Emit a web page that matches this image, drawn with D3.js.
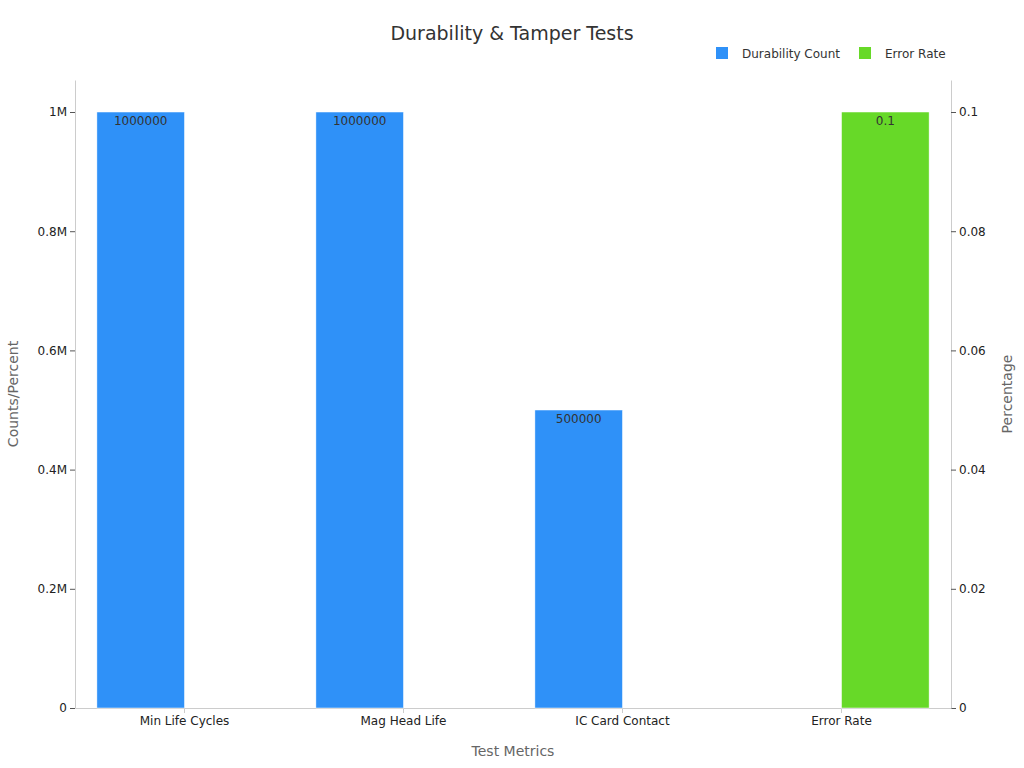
<!DOCTYPE html>
<html>
<head>
<meta charset="utf-8">
<script src="https://cdn.jsdelivr.net/npm/d3@7"></script>
<style>
  body { margin: 0; background: #fff; font-family: "DejaVu Sans", sans-serif; }
</style>
</head>
<body>
<div id="chart"></div>
<script>
// Chart data
const categories = ["Min Life Cycles", "Mag Head Life", "IC Card Contact", "Error Rate"];
const durabilityCount = [1000000, 1000000, 500000, null];
const errorRate = [null, null, null, 0.1];
const leftTicks = [0, 200000, 400000, 600000, 800000, 1000000];
const rightTicks = [0, 0.02, 0.04, 0.06, 0.08, 0.1];

const W = 1024, H = 768;
const margin = { top: 80, right: 73, bottom: 60, left: 75 };
const width = W - margin.left - margin.right;
const height = H - margin.top - margin.bottom;

const svg = d3.select("#chart").append("svg")
    .attr("width", W).attr("height", H);

const g = svg.append("g").attr("transform", `translate(${margin.left},${margin.top})`);

// Scales
const x = d3.scaleBand().domain(categories).range([0, width]).padding(0);
const sub = d3.scaleBand().domain(["count", "rate"])
    .range([x.bandwidth() * 0.1, x.bandwidth() * 0.9]);
const yL = d3.scaleLinear().domain([0, 1053700]).range([height, 0]);
const yR = d3.scaleLinear().domain([0, 0.10537]).range([height, 0]);

const fmtM = d => d === 0 ? "0" : (d / 1e6) + "M";

// Axes
const axisStyle = sel => {
    sel.select(".domain").attr("stroke", "#ccc");
    sel.selectAll(".tick line").attr("stroke", "#555");
    sel.selectAll("text").style("font-size", "12px").attr("fill", "#222")
        .style("font-family", "DejaVu Sans, sans-serif");
};

g.append("g").call(d3.axisLeft(yL).tickValues(leftTicks).tickFormat(fmtM).tickSize(5).tickSizeOuter(0))
    .call(axisStyle);
g.append("g").attr("transform", `translate(${width},0)`)
    .call(d3.axisRight(yR).tickValues(rightTicks).tickFormat(d => d === 0 ? "0" : d).tickSize(5).tickSizeOuter(0))
    .call(axisStyle);
g.append("g").attr("transform", `translate(0,${height})`)
    .call(d3.axisBottom(x).tickSize(5).tickSizeOuter(0))
    .call(axisStyle)
    .call(s => s.selectAll(".tick line").attr("stroke", "#ccc"));

// Bars: durability count
const cats = categories.map((c, i) => ({ c, count: durabilityCount[i], rate: errorRate[i] }));

g.selectAll(".bar-count").data(cats.filter(d => d.count != null)).enter()
    .append("rect").attr("class", "bar-count")
    .attr("x", d => x(d.c) + sub("count"))
    .attr("y", d => yL(d.count))
    .attr("width", sub.bandwidth())
    .attr("height", d => height - yL(d.count))
    .attr("fill", "#2f91f8").attr("stroke", "#fff").attr("stroke-width", 0.5);

g.selectAll(".bar-rate").data(cats.filter(d => d.rate != null)).enter()
    .append("rect").attr("class", "bar-rate")
    .attr("x", d => x(d.c) + sub("rate"))
    .attr("y", d => yR(d.rate))
    .attr("width", sub.bandwidth())
    .attr("height", d => height - yR(d.rate))
    .attr("fill", "#67d928").attr("stroke", "#fff").attr("stroke-width", 0.5);

// Value labels
g.selectAll(".lbl-count").data(cats.filter(d => d.count != null)).enter()
    .append("text")
    .attr("x", d => x(d.c) + sub("count") + sub.bandwidth() / 2)
    .attr("y", d => yL(d.count) + 13)
    .attr("text-anchor", "middle").style("font-size", "12px").attr("fill", "#333")
    .text(d => d.count);

g.selectAll(".lbl-rate").data(cats.filter(d => d.rate != null)).enter()
    .append("text")
    .attr("x", d => x(d.c) + sub("rate") + sub.bandwidth() / 2)
    .attr("y", d => yR(d.rate) + 13)
    .attr("text-anchor", "middle").style("font-size", "12px").attr("fill", "#333")
    .text(d => d.rate);

// Title
svg.append("text").attr("x", 512).attr("y", 40).attr("text-anchor", "middle")
    .style("font-size", "19px").attr("fill", "#333").text("Durability & Tamper Tests");

// Axis titles
svg.append("text").attr("x", 513).attr("y", 756).attr("text-anchor", "middle")
    .style("font-size", "14px").attr("fill", "#666").text("Test Metrics");
svg.append("text").attr("transform", `translate(18,${margin.top + height / 2}) rotate(-90)`)
    .attr("text-anchor", "middle").style("font-size", "14px").attr("fill", "#666").text("Counts/Percent");
svg.append("text").attr("transform", `translate(1012,${margin.top + height / 2}) rotate(-90)`)
    .attr("text-anchor", "middle").style("font-size", "14px").attr("fill", "#666").text("Percentage");

// Legend
const legend = [{ name: "Durability Count", color: "#2f91f8", x: 716 }, { name: "Error Rate", color: "#67d928", x: 859 }];
const lg = svg.selectAll(".legend").data(legend).enter().append("g")
    .attr("transform", d => `translate(${d.x},47)`);
lg.append("rect").attr("width", 12).attr("height", 12).attr("fill", d => d.color);
lg.append("text").attr("x", 26).attr("y", 11).style("font-size", "12px").attr("fill", "#333").text(d => d.name);
</script>
</body>
</html>
